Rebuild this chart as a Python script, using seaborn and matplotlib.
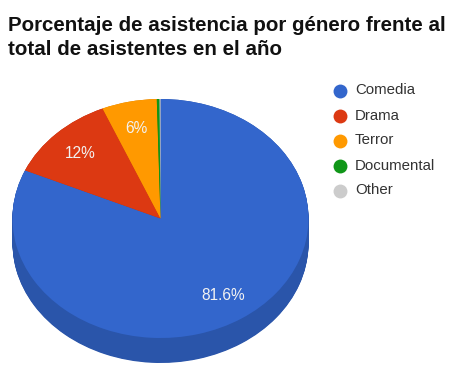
import numpy as np
import matplotlib
matplotlib.use("Agg")
import matplotlib.pyplot as plt
import seaborn as sns
from matplotlib.lines import Line2D

# Attendance share by genre
genres = ["Comedia", "Drama", "Terror", "Documental", "Other"]
shares = [81.6, 12.0, 6.0, 0.3, 0.1]
top_colors = ["#3366cc", "#dc3912", "#ff9900", "#109618", "#cccccc"]
side_colors = ["#2a55aa", "#b72f0f", "#d47f00", "#0d7d14", "#aaaaaa"]

title_lines = ["Porcentaje de asistencia por género frente al",
               "total de asistentes en el año"]

sns.set_theme(style="white")
plt.rcParams["font.family"] = ["Liberation Sans", "DejaVu Sans"]

W, H = 451, 365
fig = plt.figure(figsize=(W / 100, H / 100), dpi=100)
fig.patch.set_facecolor("white")
ax = fig.add_axes([0, 0, 1, 1])
ax.axis("off")

# elliptical projection of the pie (pixel geometry)
cx, cy = 160.5, 218.5      # centre of the top face
rx, ry = 148.0, 119.5      # horizontal / vertical radii
depth = 25.0 / ry          # thickness of the disc in data units


def fmt(p):
    if p < 1:
        return ""
    s = f"{p:.1f}"
    return s[:-2] + "%" if s.endswith(".0") else s + "%"


# side of the disc: stacked copies of the pie, shifted downward
for off in np.linspace(depth, 0.0, 40):
    ax.pie(shares, colors=side_colors, startangle=90, counterclock=False,
           center=(0, -off), radius=1.0,
           wedgeprops=dict(linewidth=0, antialiased=True))

# top face with percentage labels
wedges, _, autotexts = ax.pie(
    shares, colors=top_colors, startangle=90, counterclock=False,
    center=(0, 0), radius=1.0, autopct=fmt, pctdistance=0.77,
    wedgeprops=dict(linewidth=0),
    textprops=dict(color="#f2f2f2", fontsize=11.2))

ax.set_aspect("auto")
ax.set_xlim(-cx / rx, (W - cx) / rx)
ax.set_ylim(-(H - cy) / ry, cy / ry)

# title
fig.text(8 / W, 1 - 31 / H, title_lines[0], fontsize=14.8, fontweight="bold",
         color="#111111", ha="left", va="baseline")
fig.text(8 / W, 1 - 55 / H, title_lines[1], fontsize=14.8, fontweight="bold",
         color="#111111", ha="left", va="baseline")

# legend
for i, (g, c) in enumerate(zip(genres, top_colors)):
    y = 1 - (90.5 + 25 * i) / H
    fig.add_artist(Line2D([340 / W], [y], marker="o", markersize=10,
                          markerfacecolor=c, markeredgewidth=0,
                          linestyle="none", transform=fig.transFigure))
    fig.text(355 / W, y, g, fontsize=10.8, color="#333333",
             ha="left", va="center")

fig.savefig("out.png", dpi=100, facecolor="white")
